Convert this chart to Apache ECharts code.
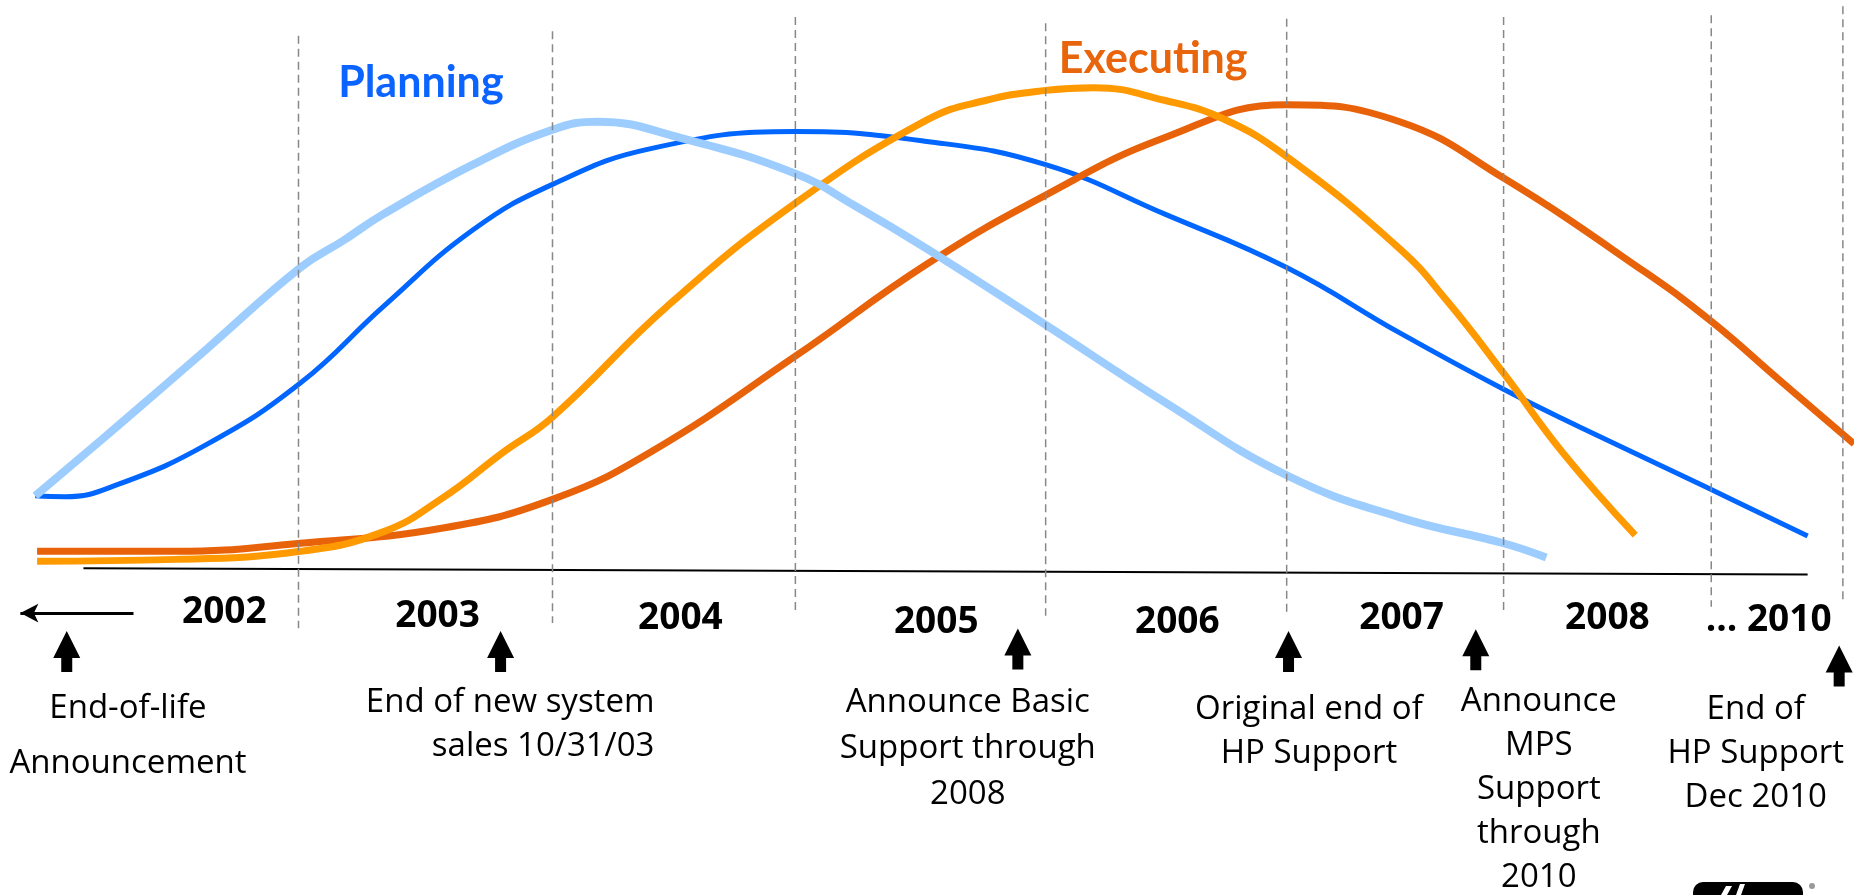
<!DOCTYPE html>
<html>
<head>
<meta charset="utf-8">
<script src="https://cdn.jsdelivr.net/npm/echarts@6/dist/echarts.min.js"></script>
<style>
html, body { margin: 0; padding: 0; background: #fff; }
#chart { width: 1854px; height: 895px; }
</style>
</head>
<body>
<div id="chart"></div>
<script>
// all positions are in percent of the slide: x from the left, y from the bottom
const planningLight = [[1.9, 44.6], [6.4, 52.5], [11.2, 61.1], [16.2, 70.1], [18.5, 73.1], [20.7, 76.1], [25.5, 81.6], [29.8, 85.5], [32.2, 86.4], [36.7, 84.6], [42.9, 80.6], [46.2, 76.9], [50.0, 72.2], [56.4, 63.7], [62.8, 55.1], [69.4, 46.9], [75.5, 42.2], [81.1, 39.3], [83.4, 37.7]]
const planningDark = [[1.9, 44.6], [3.5, 44.5], [6.4, 45.9], [11.2, 50.4], [16.2, 57.2], [20.7, 65.8], [25.5, 74.3], [29.8, 79.4], [35.1, 83.4], [42.9, 85.3], [50.0, 84.2], [56.4, 81.6], [62.8, 76.1], [69.4, 70.1], [75.5, 62.8], [81.1, 56.5], [85.2, 52.3], [92.3, 45.3], [97.5, 40.1]]
const executingLight = [[2.0, 37.3], [9.5, 37.5], [16.2, 38.4], [20.7, 40.6], [23.9, 44.4], [27.1, 49.4], [29.8, 53.4], [36.0, 65.8], [42.9, 77.3], [50.0, 86.6], [53.2, 88.8], [56.4, 89.9], [59.0, 90.2], [62.8, 88.8], [66.0, 86.7], [69.4, 82.5], [75.5, 72.2], [78.0, 66.5], [81.1, 58.3], [84.3, 49.4], [88.2, 40.2]]
const executingDark = [[2.0, 38.4], [9.5, 38.4], [16.2, 39.3], [23.9, 41.0], [29.8, 44.2], [35.1, 49.5], [42.9, 60.2], [50.0, 70.5], [56.4, 78.2], [62.8, 84.6], [69.4, 88.3], [75.5, 86.4], [81.1, 80.1], [88.8, 69.5], [92.3, 64.1], [96.0, 57.5], [100, 50.4]]

const dividerX = [16.1, 29.8, 42.9, 56.4, 69.4, 81.1, 92.3, 99.4]
const dividerTop = [96.0, 96.5, 98.1, 97.4, 97.9, 98.1, 98.3, 99.3]
const dividerBottom = [29.8, 30.4, 31.8, 31.2, 31.5, 31.8, 32.2, 33.0]
const baseLine = [[4.5, 36.5], [97.5, 35.8]]

const years = ['2002', '2003', '2004', '2005', '2006', '2007', '2008', '... 2010']
const yearPos = [[12.1, 31.6], [23.6, 31.1], [36.7, 30.9], [50.5, 30.4], [63.5, 30.4], [75.6, 30.9], [86.7, 30.9], [92.0, 30.7]]

const notes = ['End-of-life\nAnnouncement', 'End of new system\nsales 10/31/03', 'Announce Basic\nSupport through\n2008', 'Original end of\nHP Support', 'Announce\nMPS\nSupport\nthrough\n2010', 'End of\nHP Support\nDec 2010']
const notePos = [[6.9, 17.8], [35.3, 19.0], [52.2, 16.4], [70.6, 18.3], [83.0, 11.8], [94.7, 15.8]]
const noteAlign = ['center', 'right', 'center', 'center', 'center', 'center']
const noteLineHeight = [55, 44, 46, 44, 44, 44]

const arrowPos = [[3.6, 27.2], [27.0, 27.2], [54.9, 27.5], [69.5, 27.2], [79.6, 27.4], [99.2, 25.6]]

const phases = ['Planning', 'Executing']
const phasePos = [[22.7, 90.7], [62.2, 93.4]]
const phaseColor = ['#0b64ff', '#e8650c']

const myChart = echarts.init(document.getElementById('chart'))

function curve (data, color, width, z) {
  return {
    type: 'line',
    data: data,
    smooth: 0.45,
    symbol: 'none',
    silent: true,
    z: z,
    lineStyle: { color: color, width: width, cap: 'butt' }
  }
}

const dividers = dividerX.map((x, i) => ({
  type: 'line',
  data: [[x, dividerTop[i]], [x, dividerBottom[i]]],
  symbol: 'none',
  silent: true,
  z: 10,
  lineStyle: { color: '#888', width: 1.5, type: [8, 5] }
}))

// invisible points that only carry a text label
function textLayer (names, pos, label, perItem) {
  return {
    type: 'scatter',
    silent: true,
    symbolSize: 0,
    z: 12,
    itemStyle: { opacity: 1 },
    data: names.map((t, i) => ({ value: pos[i], name: t, label: perItem(i) })),
    label: Object.assign({
      show: true,
      position: 'inside',
      formatter: '{b}',
      align: 'center',
      verticalAlign: 'middle',
      opacity: 1
    }, label)
  }
}

myChart.setOption({
  animation: false,
  grid: { left: 0, right: 0, top: 0, bottom: 0 },
  xAxis: { type: 'value', min: 0, max: 100, show: false },
  yAxis: { type: 'value', min: 0, max: 100, show: false },
  graphic: [
    { type: 'rect', left: 1693, top: 882, shape: { width: 110, height: 40, r: 10 }, style: { fill: '#000' } },
    { type: 'polygon', shape: { points: [[1726, 886], [1732, 886], [1727, 895], [1721, 895]] }, style: { fill: '#fff' } },
    { type: 'polygon', shape: { points: [[1740, 884], [1745, 884], [1741, 895], [1736, 895]] }, style: { fill: '#fff' } },
    { type: 'circle', shape: { cx: 1812, cy: 886, r: 3 }, style: { fill: '#999' } }
  ],
  series: [
    curve(planningDark, '#0066ff', 5, 2),
    curve(executingDark, '#e8620a', 7, 3),
    curve(executingLight, '#ff9900', 7, 4),
    curve(planningLight, '#9dcdff', 8, 5),
    ...dividers,
    {
      type: 'line',
      data: baseLine,
      symbol: 'none',
      silent: true,
      z: 6,
      lineStyle: { color: '#000', width: 2 },
      markLine: {
        silent: true,
        symbol: ['none', 'arrow'],
        symbolSize: [14, 18],
        label: { show: false },
        lineStyle: { color: '#000', width: 3, type: 'solid' },
        data: [[{ coord: [7.2, 31.5] }, { coord: [1.1, 31.5] }]]
      }
    },
    {
      type: 'scatter',
      silent: true,
      symbol: 'path://M13.5,0 L27,27 L19,27 L19,41 L8,41 L8,27 L0,27 Z',
      symbolSize: [27, 41],
      itemStyle: { color: '#000', opacity: 1 },
      data: arrowPos
    },
    textLayer(years, yearPos, {
      fontFamily: '"Open Sans", sans-serif',
      fontWeight: 'bold',
      fontSize: 37,
      color: '#000'
    }, i => ({ align: i === years.length - 1 ? 'left' : 'center' })),
    textLayer(notes, notePos, {
      fontFamily: '"Open Sans", sans-serif',
      fontSize: 33,
      color: '#000'
    }, i => ({ align: noteAlign[i], lineHeight: noteLineHeight[i] })),
    textLayer(phases, phasePos, {
      fontFamily: 'Lato, sans-serif',
      fontWeight: 'bold',
      fontSize: 43
    }, i => ({ color: phaseColor[i] }))
  ]
})
</script>
</body>
</html>
